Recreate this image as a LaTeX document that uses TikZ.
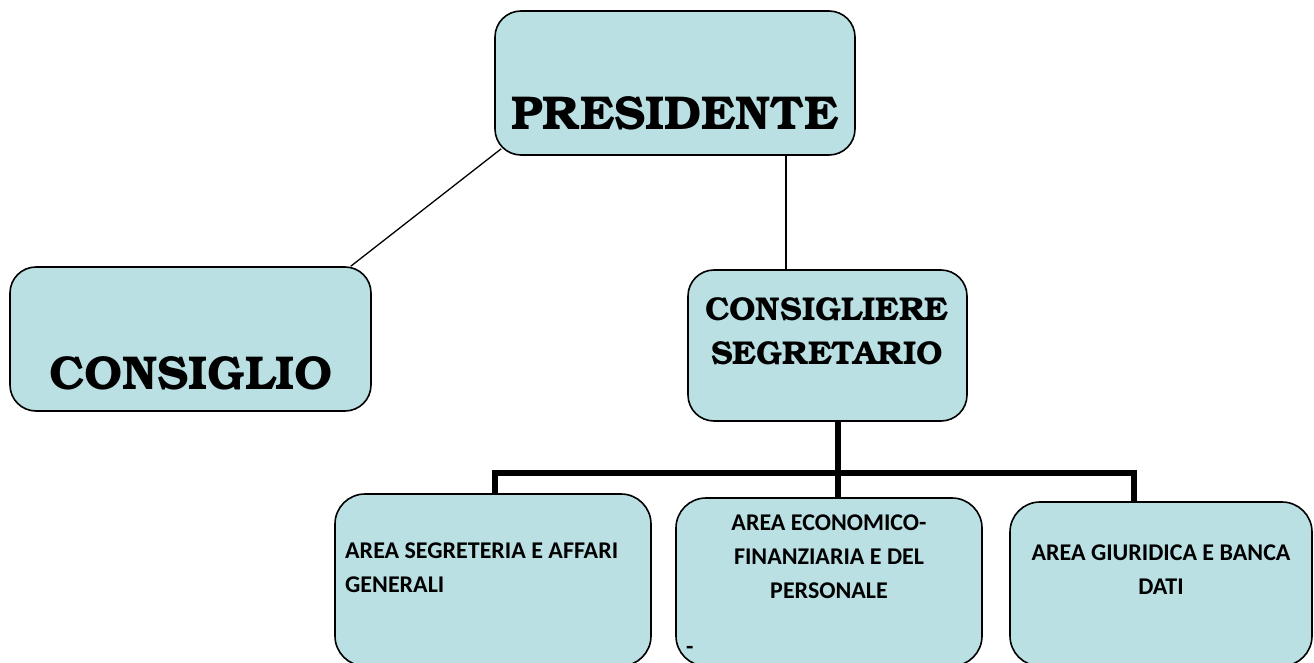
\documentclass[tikz,border=0pt]{standalone}
\usepackage{fontspec}
\setmainfont{Carlito}
\newfontfamily\bonum{TeX Gyre Bonum}
\usetikzlibrary{calc}
\definecolor{boxfill}{RGB}{186,224,227}
\tikzset{
  box/.style={draw=black, line width=1.6pt, fill=boxfill, rounded corners=26pt, inner sep=0pt},
  lowbox/.style={draw=black, line width=1.6pt, fill=boxfill, rounded corners=30pt, inner sep=0pt},
  bigtxt/.style={font=\bonum\bfseries\fontsize{47.5}{50}\selectfont, inner sep=0pt, align=center},
  midtxt/.style={font=\bonum\bfseries\fontsize{33}{44}\selectfont, inner sep=0pt, align=center},
  smalltxt/.style={font=\bfseries\fontsize{24}{34}\selectfont, inner sep=0pt},
  thin/.style={draw=black, line width=1.3pt},
  bus/.style={draw=black, line width=6pt}
}
\begin{document}
\begin{tikzpicture}[x=1pt,y=-1pt]
\useasboundingbox (0,0) rectangle (1314,663);
% boxes
\node[box, minimum width=360pt, minimum height=144pt] (pres) at (675,83) {};
\node[box, minimum width=361pt, minimum height=144pt] (cons) at (190.5,339) {};
\node[box, minimum width=279pt, minimum height=151pt] (csg) at (827.5,345.5) {};
\node[lowbox, minimum width=316pt, minimum height=172pt] (a1) at (493,580) {};
\node[lowbox, minimum width=306pt, minimum height=168pt] (a2) at (829,582) {};
\node[lowbox, minimum width=302pt, minimum height=164pt] (a3) at (1161,584) {};
% texts
\node[bigtxt] (tpres) at (675,113) {PRESIDENTE};
\node[bigtxt] (tcons) at (191,373) {CONSIGLIO};
\node[midtxt] (tcsg) at (827,331) {CONSIGLIERE\\SEGRETARIO};
\node[smalltxt, align=left, anchor=west] (ta1) at (345,568) {AREA SEGRETERIA E AFFARI\\GENERALI};
\node[smalltxt, align=center] (ta2) at (829,557) {AREA ECONOMICO-\\FINANZIARIA E DEL\\PERSONALE};
\node[smalltxt, align=center] (ta3) at (1161,570) {AREA GIURIDICA E BANCA\\DATI};
\node[smalltxt, anchor=west] (dash) at (686,650) {-};
% connectors
\coordinate (vx) at (786,0);
\coordinate (x1) at (495,0);
\coordinate (x2) at (838,0);
\coordinate (x3) at (1134,0);
\coordinate (j) at (838,473);
\draw[thin] ($(pres.south west)+(7,-7)$) -- ($(cons.north east)+(-21,0)$);
\draw[thin] (pres.south -| vx) -- (csg.north -| vx);
\draw[bus] (a1.north -| x1) |- (j) -| (a3.north -| x3);
\draw[bus] (csg.south -| x2) -- (a2.north -| x2);
\end{tikzpicture}
\end{document}
